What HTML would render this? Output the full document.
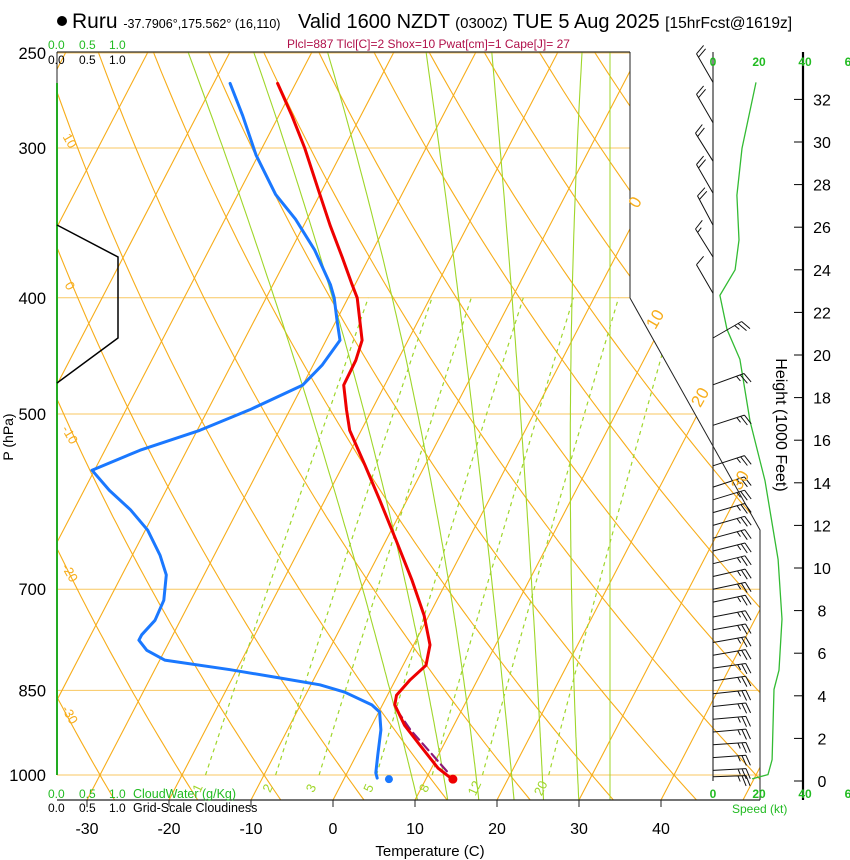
<!DOCTYPE html>
<html><head><meta charset="utf-8"><style>
body{margin:0;background:#fff;}
svg{display:block;font-family:"Liberation Sans",sans-serif;}
</style></head><body>
<svg id="c" width="850" height="860" viewBox="0 0 850 860" xmlns="http://www.w3.org/2000/svg">
<defs><clipPath id="clip"><polygon points="57,52 630,52 630,298 760,530 760,800 57,800"/></clipPath></defs>
<g id="title">
<circle cx="62" cy="21" r="5" fill="#000"/>
<text x="72" y="28" font-size="21" fill="#000">Ruru <tspan font-size="12.5">-37.7906°,175.562° (16,110)</tspan></text>
<text x="298" y="28" font-size="20" fill="#000">Valid 1600 NZDT <tspan font-size="15">(0300Z)</tspan> TUE 5 Aug 2025 <tspan font-size="15.5">[15hrFcst@1619z]</tspan></text>
<text x="287" y="48" font-size="12" fill="#b0104a">Plcl=887 Tlcl[C]=2 Shox=10 Pwat[cm]=1 Cape[J]= 27</text>
</g>
<g id="grid" clip-path="url(#clip)"></g>
<g id="frame"></g>
<g id="series"></g>
<g id="labels"></g>
</svg>
<script>
// ---- data ----
const tempP = [265,282,300,325,348,370,389,400,434,451,473,496,516,552,590,637,688,736,779,810,833,858,874,909,944,987,1008];
const tempT = [-52.2,-48.4,-44.8,-40.5,-36.8,-33.3,-30.5,-28.9,-25.6,-25.1,-25.0,-23.1,-21.4,-17.3,-13.3,-8.8,-4.3,-0.6,2.0,2.8,1.8,1.1,1.5,4.0,7.1,10.8,13.2];
const dewP = [265,282,304,328,344,365,390,400,417,434,455,473,496,516,536,557,579,601,625,656,681,715,743,764,772,787,802,817,830,841,853,874,886,917,962,996,1006];
const dewT = [-58.0,-54.4,-50.3,-45.4,-41.4,-37.1,-33.0,-31.7,-30.0,-28.3,-28.9,-30.0,-34.9,-39.7,-45.7,-50.3,-46.9,-43.1,-39.7,-36.6,-34.6,-33.3,-33.1,-33.8,-33.8,-32.2,-29.4,-20.8,-14.2,-8.9,-5.4,-1.3,0.1,1.4,2.6,3.5,4.0];
const parcelP = [883,917,957,1000];
const parcelT = [2.1,5.0,8.8,12.7];
const surfaceT = 13.3, surfaceTd = 5.5, surfaceP = 1008;
const pressureTicks = [250,300,400,500,700,850,1000];
const tempTicks = [-30,-20,-10,0,10,20,30,40];
const isotherms = [-110,-100,-90,-80,-70,-60,-50,-40,-30,-20,-10,0,10,20,30,40,50];
const dryAdiabats = [-40,-30,-20,-10,0,10,20,30,40,50,60,70,80,90,100,110,120,130];
const moistP = [1047,772,250];
const moist1 = [10.2,-4.8,-65];
const moist2 = [13.9,0.2,-57];
const moist3 = [17.7,5.1,-48];
const moist4 = [22.0,10.0,-36];
const moist5 = [25.6,14.5,-28];
const moist6 = [29.9,19.1,-17];
const mixRatios = [1,2,3,5,8,12,20];
const speedH = [32.8,29.7,27.5,25.4,24.0,22.8,21.2,19.8,16.9,14.1,10.4,7.6,5.2,4.3,1.0,0.3,0.1];
const speedKt = [18.7,12.6,10.4,11.3,9.6,3.0,6.1,11.7,16.1,22.6,28.3,30.0,28.7,26.5,25.7,23.9,17.0];
const barbH = [32.8,30.9,29.1,27.6,26.1,24.6,22.9,20.8,18.6,16.7,14.8,13.8,13.2,12.6,12.0,11.4,10.8,10.2,9.6,9.0,8.4,7.7,7.1,6.5,5.9,5.3,4.7,4.1,3.5,2.9,2.3,1.7,1.1,0.5,0.2];
const barbDir = [330,330,328,330,332,328,330,60,70,72,72,72,73,74,74,75,76,76,77,78,78,79,80,80,80,82,82,84,84,85,85,86,86,87,88];
const barbKt = [20,20,20,20,20,15,10,25,25,25,25,25,25,25,25,25,25,25,25,25,25,25,25,25,25,25,25,25,25,25,25,25,25,25,25];
const heightTicks = [0,2,4,6,8,10,12,14,16,18,20,22,24,26,28,30,32];

// ---- axes ----
const NS='http://www.w3.org/2000/svg';
const Y=p=>775-520.8*Math.log(1000/p);
const X=(T,p)=>333+8.2*T+0.52*(800-Y(p));
const P=y=>1000*Math.exp(-(775-y)/520.8);
const hY=h=>781-21.3*h;
const sX=s=>713+2.3*s;
function el(tag,attrs,parent){const e=document.createElementNS(NS,tag);for(const k in attrs)e.setAttribute(k,attrs[k]);parent.appendChild(e);return e;}
const grid=document.getElementById('grid'),frame=document.getElementById('frame'),series=document.getElementById('series'),labels=document.getElementById('labels');
const ptop=P(52), pbot=P(800);
function pathOf(pts){return pts.map((q,i)=>(i?'L':'M')+q[0].toFixed(1)+' '+q[1].toFixed(1)).join(' ');}

pressureTicks.forEach(p=>{
  const l=el('line',{x1:57,x2:760,y1:Y(p),y2:Y(p),stroke:'#f8c760','stroke-width':1},grid);
  
  
});
isotherms.forEach(T=>{
  const l=el('line',{x1:X(T,pbot),y1:800,x2:X(T,ptop),y2:52,stroke:'#f7ad1a','stroke-width':1.1},grid);
  
  
});
dryAdiabats.forEach(th=>{
  const pts=[];for(let p=pbot;p>=ptop-1;p-=10){const T=(th+273.15)*Math.pow(p/1000,0.286)-273.15;pts.push([X(T,p),Y(p)]);}
  const l=el('path',{d:pathOf(pts),fill:'none',stroke:'#f7ad1a','stroke-width':1.1},grid);
  
  
});
// moist adiabats: quadratic in ln p through anchor temps
function moistCurve(Ts){
  const l=moistP.map(p=>Math.log(p));
  const f=lp=>{let s=0;for(let i=0;i<3;i++){let t=Ts[i];for(let j=0;j<3;j++)if(j!==i)t*=(lp-l[j])/(l[i]-l[j]);s+=t;}return s;};
  const pts=[];for(let p=pbot+5;p>=ptop-10;p-=5){pts.push([X(f(Math.log(p)),p),Y(p)]);}
  return pts;
}
[moist1,moist2,moist3,moist4,moist5,moist6].forEach(Ts=>{
  const l=el('path',{d:pathOf(moistCurve(Ts)),fill:'none',stroke:'#9fd62a','stroke-width':1.1},grid);
  
  
});
{const l=el('line',{x1:610,x2:610,y1:52,y2:800,stroke:'#9fd62a','stroke-width':1},grid);

}
mixRatios.forEach(w=>{
  const pts=[];for(let p=1000;p>=400;p-=10){const e=w*p/(622+w);const a=Math.log(e/6.112);const T=243.5*a/(17.67-a);pts.push([X(T,p),Y(p)]);}
  const l=el('path',{d:pathOf(pts),fill:'none',stroke:'#9fd62a','stroke-width':1.2,'stroke-dasharray':'4,4'},grid);
  
  
  const e=w*1000/(622+w);const a=Math.log(e/6.112);const T=243.5*a/(17.67-a);
  const tx=el('text',{x:X(T,1000)-4,y:790,'font-size':13,fill:'#9fd62a',transform:`rotate(-65 ${X(T,1000)-4} 790)`,'text-anchor':'middle'},labels);
  tx.textContent=w;
  
  
});

el('line',{x1:57,y1:52,x2:630,y2:52,stroke:'#333','stroke-width':1.2},frame);
el('polyline',{points:'630,52 630,298 760,530 760,800',fill:'none',stroke:'#222','stroke-width':1},frame);
el('line',{x1:57,y1:800,x2:760,y2:800,stroke:'#222','stroke-width':1.2},frame);
el('line',{x1:57,y1:52,x2:57,y2:83,stroke:'#222','stroke-width':1},frame);
{const l=el('line',{x1:57,y1:83,x2:57,y2:775,stroke:'#22aa22','stroke-width':2},frame);

}
{const l=el('path',{d:pathOf([[57,225],[118,257],[118,338],[57,383]]),fill:'none',stroke:'#000','stroke-width':1.5},frame);

}
tempTicks.forEach(T=>{
  const x=333+8.2*T;
  el('line',{x1:x,x2:x,y1:800,y2:807,stroke:'#222'},frame);
  const t=el('text',{x:x,y:834,'font-size':16,'text-anchor':'middle',fill:'#000'},labels);t.textContent=T;
  
  
});
pressureTicks.forEach(p=>{
  const t=el('text',{x:46,y:Y(p)+6,'font-size':16.5,'text-anchor':'end',fill:'#000'},labels);t.textContent=p;
  
  
});
[[0,640,205],[10,660,322],[20,705,400],[30,745,483]].forEach(a=>{
  const t=el('text',{x:a[1],y:a[2],'font-size':17,fill:'#f7ad1a','text-anchor':'middle',transform:`rotate(-60 ${a[1]} ${a[2]})`},labels);t.textContent=a[0];
  
  
});
[[10,143],[0,288],[-10,437],[-20,575],[-30,717]].forEach(a=>{
  const t=el('text',{x:66,y:a[1],'font-size':13,fill:'#f7ad1a','text-anchor':'middle',transform:`rotate(60 66 ${a[1]})`},labels);t.textContent=a[0];
  
  
});

function line(Ps,Ts,color,w,name,dash){
  const l=el('path',{d:pathOf(Ps.map((p,i)=>[X(Ts[i],p),Y(p)])),fill:'none',stroke:color,'stroke-width':w,'stroke-linejoin':'round','stroke-linecap':'round'},series);
  if(dash)l.setAttribute('stroke-dasharray',dash);
  
  
}
line(parcelP,parcelT,'#8b1a7a',2.2,'parcel-line','9,5');
line(dewP,dewT,'#1a78ff',3,'dewpoint-line');
line(tempP,tempT,'#ee0000',3,'temperature-line');
{const c=el('circle',{cx:X(surfaceT,surfaceP),cy:Y(surfaceP),r:4.5,fill:'#ee0000'},series);


const d=el('circle',{cx:X(surfaceTd,surfaceP),cy:Y(surfaceP),r:4,fill:'#1a78ff'},series);

}

el('line',{x1:713,x2:713,y1:52,y2:781,stroke:'#333','stroke-width':1.2},frame);
el('line',{x1:803,x2:803,y1:52,y2:800,stroke:'#000','stroke-width':2.2},frame);
heightTicks.forEach(h=>{
  el('line',{x1:794,x2:803,y1:hY(h),y2:hY(h),stroke:'#000'},frame);
  const t=el('text',{x:822,y:hY(h)+6,'font-size':16,'text-anchor':'middle',fill:'#000'},labels);t.textContent=h;
  
  
});
{const l=el('path',{d:pathOf(speedH.map((h,i)=>[sX(speedKt[i]),hY(h)])),fill:'none',stroke:'#33bb33','stroke-width':1.3},series);

}
barbH.forEach((h,i)=>{
  const d=barbDir[i]*Math.PI/180;const ux=Math.sin(d),uy=-Math.cos(d);
  const x0=713,y0=hY(h),L=33;const x1=x0+ux*L,y1=y0+uy*L;
  const r=70*Math.PI/180;const fx=ux*Math.cos(r)-uy*Math.sin(r),fy=ux*Math.sin(r)+uy*Math.cos(r);
  let dd=`M${x0} ${y0.toFixed(1)} L${x1.toFixed(1)} ${y1.toFixed(1)}`;
  let kt=barbKt[i],k=0;
  while(kt>=10){const bx=x1-ux*k*4,by=y1-uy*k*4;dd+=` M${bx.toFixed(1)} ${by.toFixed(1)} l${(fx*11).toFixed(1)} ${(fy*11).toFixed(1)}`;kt-=10;k++;}
  if(kt>=5){const bx=x1-ux*k*4,by=y1-uy*k*4;dd+=` M${bx.toFixed(1)} ${by.toFixed(1)} l${(fx*6).toFixed(1)} ${(fy*6).toFixed(1)}`;}
  const b=el('path',{d:dd,fill:'none',stroke:'#111','stroke-width':1},series);
  
  
});
[[0,713],[20,759],[40,805],[6,848]].forEach(a=>{
  [66,798].forEach(y=>{const t=el('text',{x:a[1],y:y,'font-size':12,'font-weight':'bold','text-anchor':'middle',fill:'#22bb22'},labels);t.textContent=a[0];
  
  });
});
</script>
<script>
const L=document.getElementById('labels');const N='http://www.w3.org/2000/svg';
function tx(x,y,s,str,fill,name,extra){const t=document.createElementNS(N,'text');t.setAttribute('x',x);t.setAttribute('y',y);t.setAttribute('font-size',s);t.setAttribute('fill',fill);if(extra)for(const k in extra)t.setAttribute(k,extra[k]);t.textContent=str;L.appendChild(t);


return t;}
[['0.0',48],['0.5',79],['1.0',109]].forEach(a=>{
  tx(a[1],49,12,a[0],'#22bb22','cloudwater-scale-top');
  tx(a[1],64,12,a[0],'#000','cloudiness-scale-top');
  tx(a[1],798,12,a[0],'#22bb22','cloudwater-scale-bottom');
  tx(a[1],812,12,a[0],'#000','cloudiness-scale-bottom');
});
tx(133,798,12.5,'CloudWater (g/Kg)','#22bb22','cloudwater-title');
tx(133,812,12.5,'Grid-Scale Cloudiness','#000','cloudiness-title');
tx(732,813,12,'Speed (kt)','#22bb22','speed-axis-title');
tx(430,856,15,'Temperature (C)','#000','x-axis-title',{'text-anchor':'middle'});
tx(13,437,14,'P (hPa)','#000','y-axis-title',{'text-anchor':'middle',transform:'rotate(-90 13 437)'});
tx(776,425,16,'Height (1000 Feet)','#000','height-axis-title',{'text-anchor':'middle',transform:'rotate(90 776 425)'});
</script>
</body></html>
